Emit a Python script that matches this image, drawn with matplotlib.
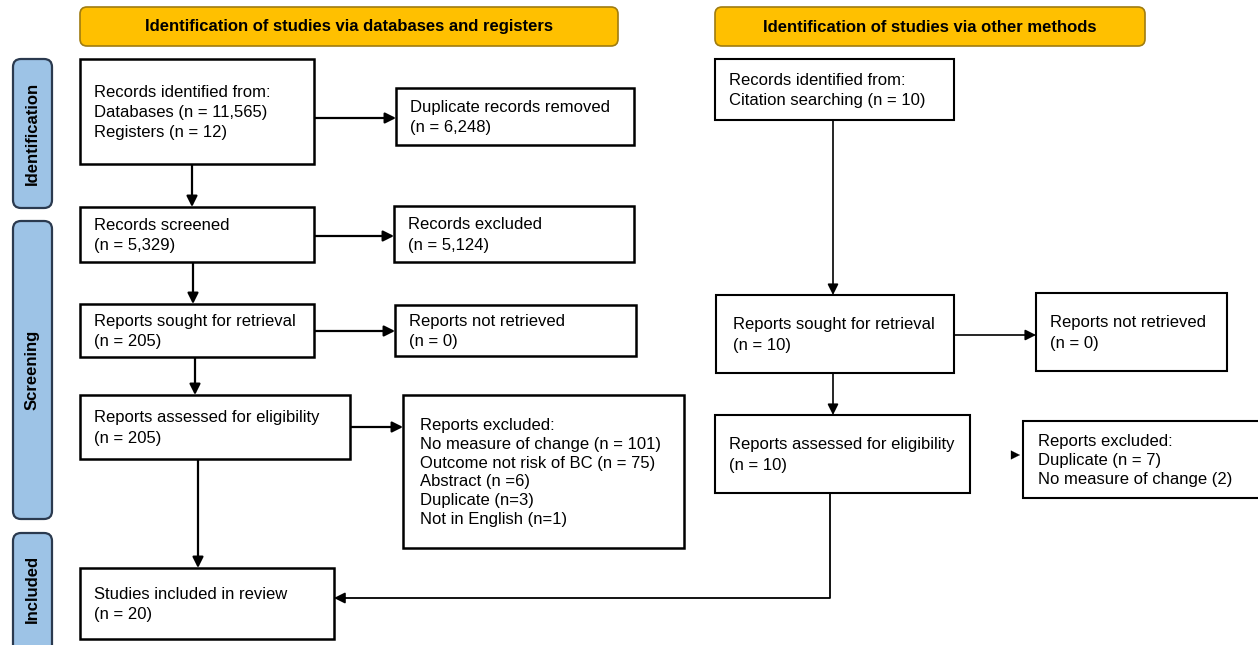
import matplotlib
matplotlib.use("Agg")
import matplotlib.pyplot as plt
from matplotlib.patches import Rectangle, FancyBboxPatch

plt.rcParams['font.family'] = ['Liberation Sans', 'DejaVu Sans']

# ---- content of the flow diagram ----
headers = ["Identification of studies via databases and registers",
           "Identification of studies via other methods"]
phases = ["Identification", "Screening", "Included"]

n_databases = 11565
n_registers = 12
n_duplicates = 6248
n_screened = 5329
n_rec_excluded = 5124
n_sought = 205
n_not_retrieved = 0
n_assessed = 205
excl_reasons = ["No measure of change", "Outcome not risk of BC", "Abstract",
                "Duplicate", "Not in English"]
excl_counts = [101, 75, 6, 3, 1]
excl_fmt = ["(n = {})", "(n = {})", "(n ={})", "(n={})", "(n={})"]
n_included = 20

n_citation = 10
n_other_sought = 10
n_other_not_retrieved = 0
n_other_assessed = 10
other_excl_reasons = ["Duplicate", "No measure of change"]
other_excl_counts = [7, 2]

# ---- layout (pixel coordinates, y downwards) ----
fig = plt.figure(figsize=(12.58, 6.45), dpi=100)
ax = fig.add_axes([0, 0, 1, 1])
ax.set_xlim(0, 1258)
ax.set_ylim(645, 0)
ax.axis('off')

FS = 12


def box(x0, y0, x1, y1, text, tx=14, lw=1.8, ls=1.42):
    ax.add_patch(Rectangle((x0, y0), x1 - x0, y1 - y0, facecolor='white',
                           edgecolor='black', lw=lw, zorder=2))
    ax.text(x0 + tx, (y0 + y1) / 2 + 1, text, ha='left', va='center',
            fontsize=FS, linespacing=ls, zorder=3)


def arrow(p0, p1, lw=1.6):
    ax.annotate("", xy=p1, xytext=p0,
                arrowprops=dict(arrowstyle='-|>', color='black', lw=lw,
                                mutation_scale=16, shrinkA=0, shrinkB=0),
                zorder=1)


# headers
for (x0, x1), t in zip([(80, 618), (715, 1145)], headers):
    ax.add_patch(FancyBboxPatch((x0, 7), x1 - x0, 39,
                                boxstyle="round,pad=0,rounding_size=7",
                                facecolor='#FFC000', edgecolor='#A07C10', lw=1.2))
    ax.text((x0 + x1) / 2, 27, t, ha='center', va='center',
            fontsize=FS, fontweight='bold')

# phase bars
for (y0, y1), t in zip([(59, 208), (221, 519), (533, 665)], phases):
    ax.add_patch(FancyBboxPatch((13, y0), 39, y1 - y0,
                                boxstyle="round,pad=0,rounding_size=8",
                                facecolor='#9DC3E6', edgecolor='#2B3A4F', lw=1.6))
    ax.text(32.5, (y0 + min(y1, 645)) / 2 if t != "Included" else 589, t,
            ha='center', va='center', rotation=90, fontsize=FS, fontweight='bold')

# left column
box(80, 59, 314, 164, "Records identified from:\nDatabases (n = {:,})\nRegisters (n = {})"
    .format(n_databases, n_registers))
box(80, 207, 314, 262, "Records screened\n(n = {:,})".format(n_screened))
box(80, 304, 314, 357, "Reports sought for retrieval\n(n = {})".format(n_sought))
box(80, 395, 350, 459, "Reports assessed for eligibility\n(n = {})".format(n_assessed))
box(80, 568, 334, 639, "Studies included in review\n(n = {})".format(n_included))

# middle column
box(396, 88, 634, 145, "Duplicate records removed\n(n = {:,})".format(n_duplicates))
box(394, 206, 634, 262, "Records excluded\n(n = {:,})".format(n_rec_excluded))
box(395, 305, 636, 356, "Reports not retrieved\n(n = {})".format(n_not_retrieved))
excl_lines = ["Reports excluded:"] + [r + " " + f.format(c) for r, f, c in
                                      zip(excl_reasons, excl_fmt, excl_counts)]
box(403, 395, 684, 548, "\n".join(excl_lines), tx=17, ls=1.32)

# right column
box(715, 59, 954, 120, "Records identified from:\nCitation searching (n = {})"
    .format(n_citation), lw=1.5)
box(716, 295, 954, 373, "Reports sought for retrieval\n(n = {})".format(n_other_sought),
    tx=17, lw=1.5)
box(715, 415, 970, 493, "Reports assessed for eligibility\n(n = {})".format(n_other_assessed),
    lw=1.5)
box(1036, 293, 1227, 371, "Reports not retrieved\n(n = {})".format(n_other_not_retrieved),
    lw=1.5)
other_lines = ["Reports excluded:",
               "{} (n = {})".format(other_excl_reasons[0], other_excl_counts[0]),
               "{} ({})".format(other_excl_reasons[1], other_excl_counts[1])]
box(1023, 421, 1265, 498, "\n".join(other_lines), tx=15, ls=1.32, lw=1.5)

# arrows, left
arrow((192, 164), (192, 207))
arrow((193, 262), (193, 304))
arrow((195, 357), (195, 395))
arrow((198, 459), (198, 568))
arrow((314, 118), (396, 118))
arrow((314, 236), (394, 236))
arrow((314, 331), (395, 331))
arrow((350, 427), (403, 427))

# arrows, right
arrow((833, 120), (833, 295), lw=1.2)
arrow((833, 373), (833, 415), lw=1.2)
arrow((954, 335), (1036, 335), lw=1.2)
arrow((1011, 455), (1020, 455), lw=0.1)
ax.plot([830, 830, 340], [493, 598, 598], color='black', lw=1.3, zorder=1)
arrow((345, 598), (334, 598), lw=1.3)

fig.savefig("out.png", dpi=100)
